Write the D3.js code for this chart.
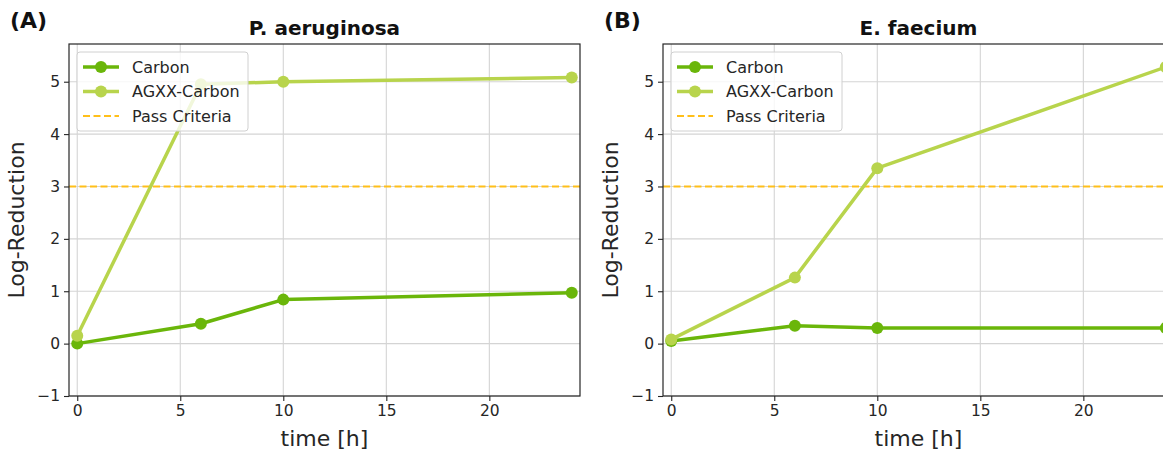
<!DOCTYPE html>
<html>
<head>
<meta charset="utf-8">
<script src="https://cdn.jsdelivr.net/npm/d3@7"></script>
<style>
  html, body { margin: 0; padding: 0; background: #fff; overflow: hidden; }
  svg { display: block; font-family: "DejaVu Sans", sans-serif; }
</style>
</head>
<body>
<svg id="chart" width="1163" height="455"></svg>
<script>
// Data
const times = [0, 6, 10, 24];
const carbonPA = [0.0, 0.38, 0.84, 0.97];
const agxxPA = [0.15, 4.95, 5.0, 5.08];
const carbonEF = [0.05, 0.34, 0.30, 0.30];
const agxxEF = [0.08, 1.26, 3.35, 5.28];
const passCriteria = 3;
const xTicks = [0, 5, 10, 15, 20];
const yTicks = [-1, 0, 1, 2, 3, 4, 5];
const seriesNames = ['Carbon', 'AGXX-Carbon', 'Pass Criteria'];

const panels = [
  { tag: '(A)', title: 'P. aeruginosa', carbon: carbonPA, agxx: agxxPA, left: 69 },
  { tag: '(B)', title: 'E. faecium', carbon: carbonEF, agxx: agxxEF, left: 663 },
];

const COLORS = { carbon: '#6ab60a', agxx: '#b8d44c', pass: '#ffbf1a' };
const plotTop = 44, plotBottom = 396, plotW = 511;

const svg = d3.select('#chart');

// d3 axes set their own font on the group; put ours back
function styleAxis(a) {
  a.attr('font-family', '"DejaVu Sans", sans-serif').attr('font-size', 15.5);
  a.select('.domain').remove();
  a.selectAll('.tick line').attr('stroke', '#262626').attr('stroke-width', 1.1);
  a.selectAll('.tick text').attr('fill', '#262626');
}

for (const p of panels) {
  const x = d3.scaleLinear().domain([-0.4, 24.4]).range([p.left, p.left + plotW]);
  const y = d3.scaleLinear().domain([-1, 5.72]).range([plotBottom, plotTop]);
  const g = svg.append('g');

  // grid
  g.append('g').selectAll('line').data(xTicks).enter().append('line')
    .attr('x1', (d) => x(d)).attr('x2', (d) => x(d))
    .attr('y1', plotTop).attr('y2', plotBottom)
    .attr('stroke', '#d4d4d4').attr('stroke-width', 1.1);
  g.append('g').selectAll('line').data(yTicks).enter().append('line')
    .attr('x1', p.left).attr('x2', p.left + plotW)
    .attr('y1', (d) => y(d)).attr('y2', (d) => y(d))
    .attr('stroke', '#d4d4d4').attr('stroke-width', 1.1);

  // axes
  g.append('g')
    .attr('transform', `translate(0,${plotBottom})`)
    .call(d3.axisBottom(x).tickValues(xTicks).tickSize(5).tickPadding(4).tickSizeOuter(0))
    .call(styleAxis);
  g.append('g')
    .attr('transform', `translate(${p.left},0)`)
    .call(d3.axisLeft(y).tickValues(yTicks).tickSize(5).tickPadding(4)
      .tickFormat((d) => (d < 0 ? '\u2212' + Math.abs(d) : d)))
    .call(styleAxis);

  // pass criteria
  g.append('line')
    .attr('x1', p.left).attr('x2', p.left + plotW)
    .attr('y1', y(passCriteria)).attr('y2', y(passCriteria))
    .attr('stroke', COLORS.pass).attr('stroke-width', 2)
    .attr('stroke-dasharray', '7 3.5');

  const line = d3.line().x((d, i) => x(times[i])).y((d) => y(d));
  for (const [key, vals] of [['carbon', p.carbon], ['agxx', p.agxx]]) {
    g.append('path').datum(vals)
      .attr('d', line).attr('fill', 'none')
      .attr('stroke', COLORS[key]).attr('stroke-width', 3.5)
      .attr('stroke-linejoin', 'round');
    g.append('g').selectAll('circle').data(vals).enter().append('circle')
      .attr('cx', (d, i) => x(times[i])).attr('cy', (d) => y(d))
      .attr('r', 6).attr('fill', COLORS[key]);
  }

  // spines
  g.append('rect')
    .attr('x', p.left).attr('y', plotTop).attr('width', plotW).attr('height', plotBottom - plotTop)
    .attr('fill', 'none').attr('stroke', '#262626').attr('stroke-width', 1.2);

  // legend
  const lg = g.append('g').attr('transform', `translate(${p.left + 8},${plotTop + 8})`);
  lg.append('rect').attr('width', 171).attr('height', 79).attr('rx', 3)
    .attr('fill', 'rgba(255,255,255,0.8)').attr('stroke', '#d0d0d0');
  const entries = [
    { name: seriesNames[0], color: COLORS.carbon, marker: true },
    { name: seriesNames[1], color: COLORS.agxx, marker: true },
    { name: seriesNames[2], color: COLORS.pass, marker: false },
  ];
  entries.forEach((e, i) => {
    const ey = 15 + i * 24.5;
    const ln = lg.append('line').attr('x1', 6).attr('x2', 42).attr('y1', ey).attr('y2', ey)
      .attr('stroke', e.color).attr('stroke-width', e.marker ? 3.5 : 2);
    if (e.marker) {
      lg.append('circle').attr('cx', 24).attr('cy', ey).attr('r', 6).attr('fill', e.color);
    } else {
      ln.attr('stroke-dasharray', '7 3.5');
    }
    lg.append('text').attr('x', 55).attr('y', ey + 5.5)
      .attr('font-size', 16).attr('fill', '#262626').text(e.name);
  });

  // titles and labels
  g.append('text').attr('x', p.left + plotW / 2).attr('y', 35)
    .attr('text-anchor', 'middle').attr('font-size', 20).attr('font-weight', 'bold')
    .attr('fill', '#111').text(p.title);
  g.append('text').attr('x', p.left - 59).attr('y', 28)
    .attr('font-size', 22).attr('font-weight', 'bold').attr('fill', '#111').text(p.tag);
  g.append('text').attr('x', p.left + plotW / 2).attr('y', 446)
    .attr('text-anchor', 'middle').attr('font-size', 22).attr('fill', '#262626').text('time [h]');
  g.append('text')
    .attr('transform', `translate(${p.left - 45},${(plotTop + plotBottom) / 2}) rotate(-90)`)
    .attr('text-anchor', 'middle').attr('font-size', 22).attr('fill', '#262626').text('Log-Reduction');
}
</script>
</body>
</html>
